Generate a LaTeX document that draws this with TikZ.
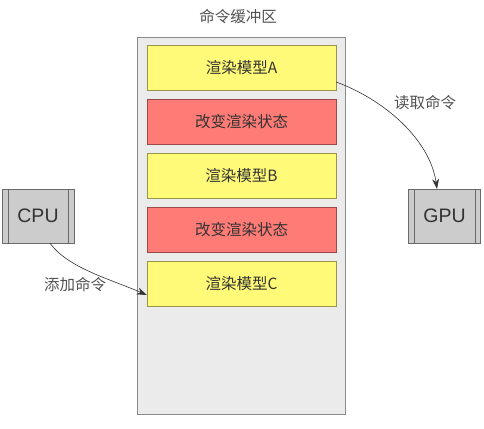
\documentclass[tikz,border=0pt]{standalone}
\usepackage{fontspec}
\setmainfont{Liberation Sans}
\newfontfamily\cjk{Noto Sans CJK SC}
\usetikzlibrary{arrows.meta}
\definecolor{ybox}{HTML}{FFFA78}
\definecolor{rbox}{HTML}{FF7B76}
\definecolor{cont}{HTML}{EBEBEB}
\definecolor{contline}{HTML}{8A8A8A}
\definecolor{procfill}{HTML}{CCCCCC}
\definecolor{procline}{HTML}{6A6A6A}
\definecolor{txt}{HTML}{333333}
\begin{document}
\begin{tikzpicture}[x=1pt,y=-1pt,
  cmdbox/.style={draw=#1!60!black, fill=#1, minimum width=189pt, minimum height=45pt, inner sep=0pt, text=txt, font=\cjk\fontsize{15.5}{17}\selectfont},
  procbox/.style={draw=procline, fill=procfill, minimum width=72pt, minimum height=54pt, inner sep=0pt, font=\fontsize{19.5}{22}\selectfont, text=txt},
  lbl/.style={text=txt!85!white, font=\cjk\fontsize{15.5}{17}\selectfont, inner sep=0pt},
  conn/.style={draw=txt, line width=0.6pt, -{Stealth[length=10pt,width=7pt]}}]
\useasboundingbox[fill=white] (0,0) rectangle (484,428);
\node[draw=contline, fill=cont, minimum width=208pt, minimum height=377pt, inner sep=0pt] (buf) at (241,225.5) {};
\node[lbl] (title) at (238,17) {命令缓冲区};
\node[cmdbox=ybox] (a) at (241.5,67.5) {渲染模型A};
\node[cmdbox=rbox] (s1) at (241.5,121.5) {改变渲染状态};
\node[cmdbox=ybox] (b) at (241.5,175.5) {渲染模型B};
\node[cmdbox=rbox] (s2) at (241.5,229.5) {改变渲染状态};
\node[cmdbox=ybox] (c) at (241.5,284) {渲染模型C};
\node[procbox] (cpu) at (38,216) {CPU};
\draw[procline] ([xshift=6pt]cpu.north west) -- ([xshift=6pt]cpu.south west);
\draw[procline] ([xshift=-6pt]cpu.north east) -- ([xshift=-6pt]cpu.south east);
\node[procbox] (gpu) at (444.5,216) {GPU};
\draw[procline] ([xshift=6pt]gpu.north west) -- ([xshift=6pt]gpu.south west);
\draw[procline] ([xshift=-6pt]gpu.north east) -- ([xshift=-6pt]gpu.south east);
\node[lbl] (add) at (75,285) {添加命令};
\node[lbl] (read) at (425,103) {读取命令};
\draw[conn] ([xshift=12pt]cpu.south) .. controls (68,268) and (110,279) .. ([yshift=-11pt]c.west);
\draw[conn] ([yshift=-14.5pt]a.east) .. controls (385,100) and (430,140) .. ([xshift=-7.5pt]gpu.north);
\end{tikzpicture}
\end{document}
